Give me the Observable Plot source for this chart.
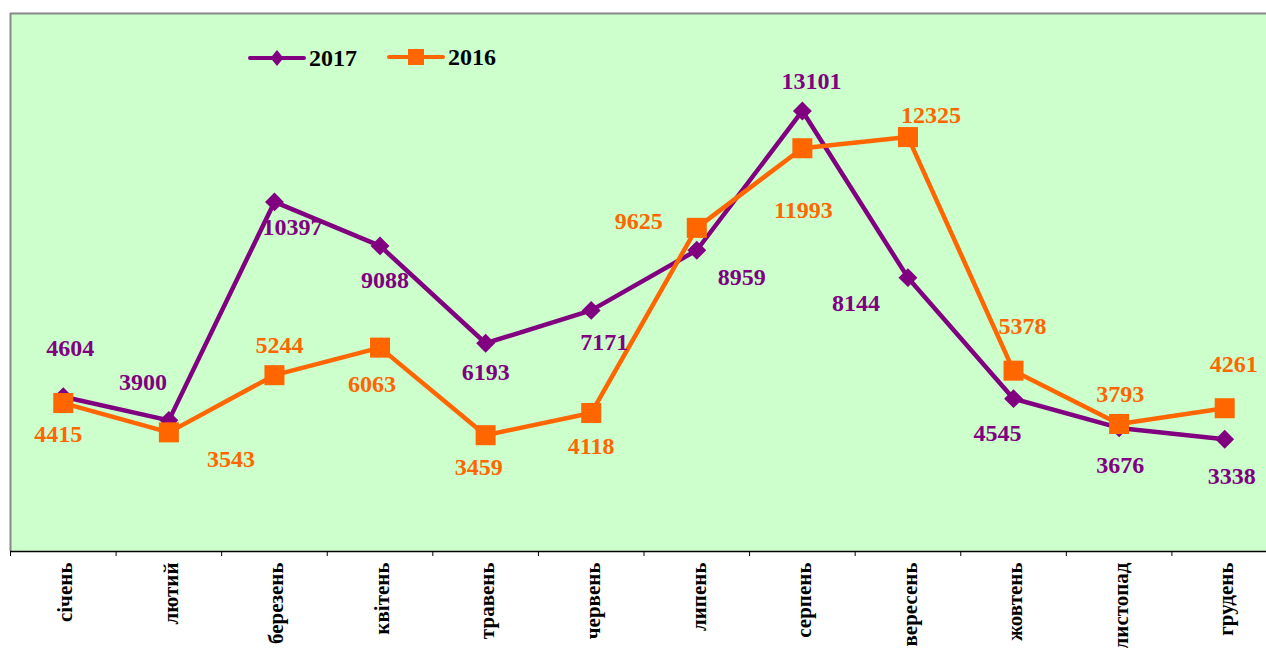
<!DOCTYPE html>
<html><head><meta charset="utf-8">
<script src="https://cdn.jsdelivr.net/npm/d3@7"></script>
<script src="https://cdn.jsdelivr.net/npm/@observablehq/plot@0.6"></script>
<style>
html,body{margin:0;padding:0;background:#fff;}
#chart{position:relative;width:1266px;height:648px;overflow:hidden;}
#legend{position:absolute;left:0;top:0;}
</style></head><body><div id="chart"></div>
<script>
// ---- data ----
const months = ["січень","лютий","березень","квітень","травень","червень","липень","серпень","вересень","жовтень","листопад","грудень"];
const values2017 = [4604,3900,10397,9088,6193,7171,8959,13101,8144,4545,3676,3338];
const values2016 = [4415,3543,5244,6063,3459,4118,9625,11993,12325,5378,3793,4261];
const seriesNames = ["2017","2016"];
const yDomain = [0,16000];

// ---- layout / styling config (label nudges in px) ----
const nudge2017 = [[7,-48],[-26,-38],[18,25],[5,34],[0,29],[13,32],[45,27],[9,-30],[-52,26],[-16,35],[1,37],[7,37]];
const nudge2016 = [[-5,31],[62,27],[5,-30],[-8,37],[-7,32],[0,33],[-58,-7],[1,62],[23,-22],[9,-44],[1,-30],[9,-44]];
const colors = {"2017":"#800080","2016":"#ff6600"};
const font = "'Liberation Serif','Times New Roman',serif";

const rows = months.map((m,i)=>({i:i+0.5, month:m, v17:values2017[i], v16:values2016[i]}));

const labelMarks = [];
rows.forEach((d,i)=>{
  labelMarks.push(Plot.text([d],{x:"i",y:"v17",text:r=>String(r.v17),dx:nudge2017[i][0],dy:nudge2017[i][1],fill:colors["2017"],fontSize:24,fontWeight:"bold"}));
  labelMarks.push(Plot.text([d],{x:"i",y:"v16",text:r=>String(r.v16),dx:nudge2016[i][0],dy:nudge2016[i][1],fill:colors["2016"],fontSize:24,fontWeight:"bold"}));
});

const plot = Plot.plot({
  width:1266, height:648,
  marginLeft:10, marginTop:13, marginRight:0, marginBottom:97,
  style:{fontFamily:font, background:"transparent", overflow:"visible"},
  x:{type:"linear", domain:[0,months.length], range:[10,1277], label:null},
  y:{domain:yDomain, axis:null, label:null},
  marks:[
    Plot.frame({fill:"#ccffcc", stroke:null}),
    Plot.ruleX([0],{stroke:"#888888",strokeWidth:2}),
    Plot.ruleY([yDomain[1]],{stroke:"#888888",strokeWidth:2}),
    Plot.ruleY([0],{stroke:"#000",strokeWidth:1.3}),
    Plot.axisX({ticks:d3.range(months.length+1), tickSize:5, tickFormat:()=>"", stroke:"#000", label:null}),
    Plot.axisX({ticks:rows.map(d=>d.i), tickSize:0, tickRotate:-90, tickPadding:11, dx:2,
      tickFormat:t=>months[Math.floor(t)], fontSize:21, fontWeight:"bold", fill:"#000", label:null}),
    Plot.line(rows,{x:"i",y:"v17",stroke:colors["2017"],strokeWidth:4.5}),
    Plot.dot(rows,{x:"i",y:"v17",symbol:"diamond2",r:8.5,fill:colors["2017"],stroke:null}),
    Plot.line(rows,{x:"i",y:"v16",stroke:colors["2016"],strokeWidth:4.5}),
    Plot.dot(rows,{x:"i",y:"v16",symbol:"square",r:11.3,fill:colors["2016"],stroke:null}),
    ...labelMarks
  ]
});
const chart = document.getElementById("chart");
chart.appendChild(plot);

// ---- legend (overlay inside plot area) ----
const lg = d3.select(chart).append("svg").attr("id","legend").attr("width",1266).attr("height",100);
const legendItems = [
  {name:seriesNames[0], x0:250, y:58, shape:"diamond"},
  {name:seriesNames[1], x0:389, y:57, shape:"square"}
];
legendItems.forEach(it=>{
  const c = colors[it.name];
  lg.append("line").attr("x1",it.x0).attr("x2",it.x0+54).attr("y1",it.y).attr("y2",it.y)
    .attr("stroke",c).attr("stroke-width",4).attr("stroke-linecap","round");
  const cx = it.x0+27;
  if(it.shape==="diamond"){
    lg.append("path").attr("d",`M${cx},${it.y-8}L${cx+6.5},${it.y}L${cx},${it.y+8}L${cx-6.5},${it.y}Z`).attr("fill",c);
  } else {
    lg.append("rect").attr("x",cx-8).attr("y",it.y-8).attr("width",16).attr("height",16).attr("fill",c);
  }
  lg.append("text").attr("x",it.x0+59).attr("y",it.y+8).text(it.name)
    .attr("font-family",font).attr("font-weight","bold").attr("font-size",24).attr("fill","#000");
});
</script></body></html>
